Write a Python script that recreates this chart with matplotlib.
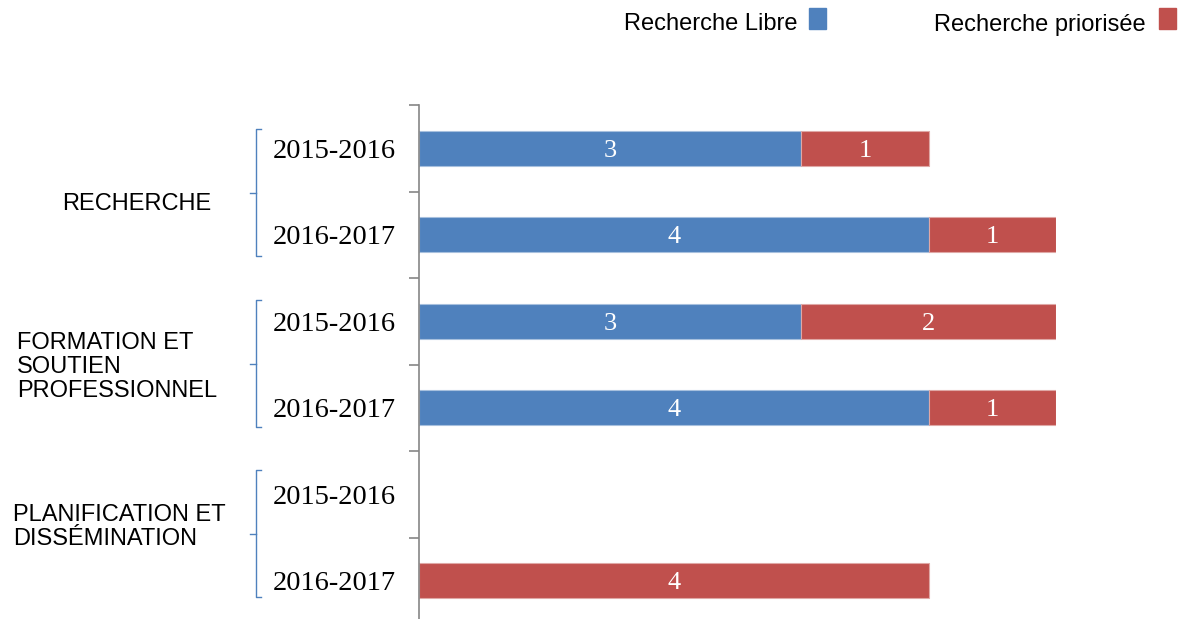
"""Stacked horizontal bars: projects by type, grouped by theme and year."""

import matplotlib.pyplot as plt
from matplotlib.lines import Line2D

# Data
groups = ["RECHERCHE", "FORMATION ET\nSOUTIEN\nPROFESSIONNEL", "PLANIFICATION ET\nDISSÉMINATION"]
years = ["2015-2016", "2016-2017"] * 3
libre = [3, 4, 3, 4, 0, 0]
priorisee = [1, 1, 2, 1, 0, 4]
series_names = ["Recherche Libre", "Recherche priorisée"]

BLUE = "#4F81BD"
RED = "#C0504D"
AXIS_GRAY = "#868686"
SERIF = ["Liberation Serif", "DejaVu Serif"]
SANS = ["Liberation Sans", "DejaVu Sans"]

fig = plt.figure(figsize=(11.8, 6.19), dpi=100)
W, H = 1180, 619
# axes: left edge at x=419 px, 5 units = 637 px, rows 86.5 px tall from y=105 px
ax = fig.add_axes([419 / W, (H - 624) / H, 637 / W, (624 - 105) / H])

rows = list(range(len(years)))
# no outline on empty segments
ax.barh(rows, libre, height=0.4, color=BLUE, edgecolor="#A7C0DE",
        linewidth=[0.8 if v else 0 for v in libre])
ax.barh(rows, priorisee, left=libre, height=0.4, color=RED, edgecolor="#DFA8A6",
        linewidth=[0.8 if v else 0 for v in priorisee])

# value labels inside segments
for r in rows:
    if libre[r]:
        ax.text(libre[r] / 2, r, str(libre[r]), ha="center", va="center_baseline",
                color="white", fontsize=19, family=SERIF)
    if priorisee[r]:
        ax.text(libre[r] + priorisee[r] / 2, r, str(priorisee[r]), ha="center",
                va="center_baseline", color="white", fontsize=19, family=SERIF)

ax.set_xlim(0, 5)
ax.set_ylim(len(rows) - 0.5, -0.5)
for s in ["top", "right", "bottom"]:
    ax.spines[s].set_visible(False)
ax.spines["left"].set_color(AXIS_GRAY)
ax.spines["left"].set_linewidth(1.2)
ax.set_xticks([])

# year labels on major ticks, category separators as minor ticks
ax.set_yticks(rows)
ax.set_yticklabels(years, family=SERIF, fontsize=20.5)
ax.tick_params(axis="y", which="major", length=0, pad=17)
ax.set_yticks([r - 0.5 for r in rows] + [len(rows) - 0.5], minor=True)
ax.tick_params(axis="y", which="minor", length=7, width=1.2, color=AXIS_GRAY)

# group brackets (pixel layout of the original)
bx = 256
for g in range(len(groups)):
    top = 129 + g * 170.5
    bot, mid = top + 127, top + 64
    fig.add_artist(Line2D([(bx + 5) / W, bx / W, bx / W, (bx + 5) / W],
                          [1 - top / H, 1 - top / H, 1 - bot / H, 1 - bot / H],
                          color=BLUE, lw=1))
    fig.add_artist(Line2D([bx / W, (bx - 6) / W], [1 - mid / H, 1 - mid / H],
                          color=BLUE, lw=1))

# group labels
fig.text(62 / W, 1 - 201 / H, groups[0], fontsize=17, family=SANS, va="center_baseline")
fig.text(17 / W, 1 - 367 / H, groups[1], fontsize=17, family=SANS, va="center",
         linespacing=1.1)
fig.text(13 / W, 1 - 527 / H, groups[2], fontsize=17, family=SANS, va="center",
         linespacing=1.1)

# legend: text followed by a coloured square
fig.text(797 / W, 1 - 22 / H, series_names[0], fontsize=17, family=SANS,
         ha="right", va="center_baseline")
fig.text(1146 / W, 1 - 22 / H, series_names[1], fontsize=17, family=SANS,
         ha="right", va="center_baseline")
for x0, c in [(809, BLUE), (1159, RED)]:
    fig.add_artist(plt.Rectangle((x0 / W, 1 - 29 / H), 17 / W, 21 / H,
                                 transform=fig.transFigure, color=c))

fig.savefig("out.png", dpi=100)
